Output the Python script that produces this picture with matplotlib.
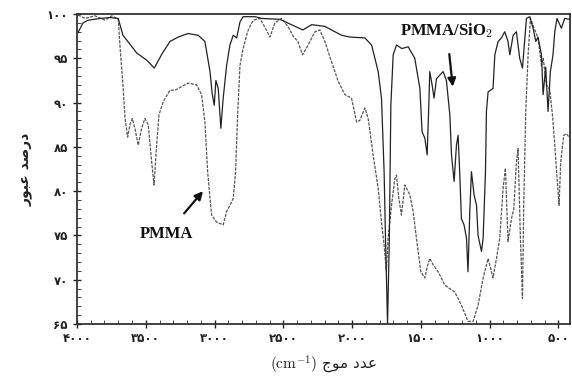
import matplotlib
matplotlib.use("Agg")
import matplotlib.pyplot as plt
from matplotlib.ticker import MultipleLocator, FixedLocator, FixedFormatter

plt.rcParams['font.family'] = ['DejaVu Sans']
plt.rcParams['mathtext.fontset'] = 'cm'

# PMMA/SiO2 (upper, solid)
wn_sio2 = [3993, 3956, 3920, 3833, 3760, 3700, 3666, 3615, 3566, 3494, 3438, 3382, 3324,
           3264, 3193, 3119, 3070, 3033, 3017, 3002, 2990, 2973, 2954, 2937, 2912, 2888,
           2864, 2839, 2815, 2792, 2706, 2656, 2525, 2358, 2294, 2198, 2076, 2016, 1907,
           1858, 1810, 1786, 1767, 1757, 1742, 1729, 1718, 1701, 1677, 1638, 1592, 1544,
           1507, 1491, 1471, 1454, 1442, 1435, 1418, 1404, 1386, 1362, 1338, 1314, 1289,
           1277, 1258, 1241, 1229, 1217, 1205, 1186, 1168, 1157, 1144, 1132, 1113, 1095,
           1084, 1059, 1047, 1030, 1023, 1011, 975, 962, 938, 914, 890, 866, 853, 829,
           805, 781, 761, 732, 708, 684, 664, 648, 623, 611, 592, 575, 558, 539, 526,
           510, 478, 454, 417]
t_sio2 = [97.9, 99.0, 99.3, 99.5, 99.6, 99.5, 97.6, 96.6, 95.6, 94.8, 93.9, 95.5, 96.9,
          97.4, 97.8, 97.6, 96.9, 93.5, 91.0, 89.7, 92.5, 91.6, 87.1, 90.5, 94.2, 96.5,
          97.6, 97.3, 99.1, 99.7, 99.7, 99.5, 99.4, 98.2, 98.8, 98.6, 97.6, 97.4, 97.3,
          96.5, 93.5, 90.5, 82.2, 74.7, 65.0, 74.7, 89.7, 95.4, 96.5, 96.1, 96.3, 95.0,
          91.6, 86.7, 86.0, 84.1, 89.7, 93.5, 92.0, 90.5, 92.7, 93.1, 93.5, 92.5, 88.6,
          84.1, 81.1, 85.2, 86.3, 82.0, 76.9, 76.2, 74.7, 70.9, 77.7, 82.2, 79.6, 78.4,
          75.0, 73.2, 74.7, 82.2, 89.0, 91.2, 91.6, 95.4, 96.9, 97.3, 98.0, 96.9, 95.4, 97.6,
          98.0, 95.0, 93.9, 99.5, 99.7, 98.4, 96.9, 97.4, 95.4, 90.9, 94.0, 89.0, 93.5, 95.4, 98.0,
          99.5, 98.4, 99.5, 99.4]

# PMMA (lower, dashed)
wn_pmma = [3993, 3942, 3869, 3797, 3746, 3700, 3688, 3664, 3651, 3632, 3615, 3598, 3579,
           3555, 3530, 3506, 3482, 3457, 3440, 3421, 3404, 3373, 3324, 3288, 3191, 3130,
           3094, 3070, 3050, 3033, 3021, 2985, 2937, 2912, 2888, 2864, 2847, 2832, 2815,
           2792, 2760, 2736, 2719, 2670, 2634, 2597, 2561, 2512, 2467, 2424, 2394, 2360,
           2319, 2270, 2234, 2198, 2149, 2101, 2052, 2004, 1967, 1943, 1907, 1883, 1847,
           1810, 1786, 1767, 1751, 1738, 1713, 1689, 1677, 1660, 1641, 1616, 1594, 1580,
           1556, 1532, 1500, 1471, 1453, 1435, 1411, 1374, 1326, 1253, 1204, 1157, 1120,
           1084, 1047, 1011, 975, 950, 926, 902, 885, 866, 841, 824, 805, 793, 776, 761,
           752, 737, 720, 703, 679, 648, 623, 610, 587, 563, 543, 526, 512, 495, 483,
           461, 442, 417]
t_pmma = [99.9, 99.5, 99.8, 99.3, 99.8, 99.4, 96.5, 91.6, 88.3, 86.1, 87.5, 88.2, 87.1,
          85.2, 87.1, 88.2, 87.5, 83.3, 80.7, 85.2, 88.6, 90.1, 91.4, 91.4, 92.2, 92.0,
          90.9, 87.8, 82.2, 79.2, 77.3, 76.5, 76.2, 77.7, 78.4, 79.2, 82.2, 88.6, 94.2,
          96.1, 98.0, 98.8, 99.3, 99.5, 98.5, 97.4, 99.0, 99.5, 98.6, 97.4, 96.9, 95.4,
          96.5, 98.0, 98.2, 96.9, 94.6, 92.4, 90.9, 90.5, 87.8, 88.0, 89.4, 88.2, 84.1,
          80.3, 76.5, 73.9, 71.0, 74.7, 78.4, 81.4, 81.8, 79.2, 77.3, 80.7, 80.0, 79.6,
          77.7, 74.7, 70.9, 70.2, 71.5, 72.4, 71.7, 70.9, 69.4, 68.6, 67.1, 65.3, 65.3,
          67.1, 70.2, 72.4, 70.2, 72.4, 74.7, 80.3, 82.6, 74.3, 76.9, 78.0, 83.3, 84.8, 74.7, 67.9,
          78.4, 89.0, 95.4, 99.5, 98.5, 97.3, 94.2, 95.0, 92.0, 91.5, 88.6, 85.2, 82.0, 78.4, 83.3,
          86.3, 86.5, 86.0]

x_ticks = [4000, 3500, 3000, 2500, 2000, 1500, 1000, 500]
x_labels = ['۴۰۰۰', '۳۵۰۰', '۳۰۰۰', '۲۵۰۰', '۲۰۰۰', '۱۵۰۰', '۱۰۰۰', '۵۰۰']
y_ticks = [65, 70, 75, 80, 85, 90, 95, 100]
y_labels = ['۶۵', '۷۰', '۷۵', '۸۰', '۸۵', '۹۰', '۹۵', '۱۰۰']

# Persian labels written in visual (shaped, left-to-right) order
xlabel_text = r'$(\mathrm{cm}^{-1})$ ' + '\uFE9D\uFEEE\uFEE3 \uFEA9\uFEAA\uFECB'   # عدد موج
ylabel_text = '\uFEAD\uFEEE\uFE92\uFECB \uFEAA\uFEBB\uFEAD\uFEA9'                  # درصد عبور

fig = plt.figure(figsize=(5.72, 3.85), dpi=100)
ax = fig.add_axes([0.1346, 0.1584, 0.862, 0.8052])

ax.plot(wn_pmma, t_pmma, color='#555555', lw=0.9, linestyle=(0, (2.5, 1)))
ax.plot(wn_sio2, t_sio2, color='#222222', lw=0.9)

ax.set_xlim(4000, 415)
ax.set_ylim(65, 100)

ax.xaxis.set_major_locator(FixedLocator(x_ticks))
ax.xaxis.set_major_formatter(FixedFormatter(x_labels))
ax.yaxis.set_major_locator(FixedLocator(y_ticks))
ax.yaxis.set_major_formatter(FixedFormatter(y_labels))
ax.xaxis.set_minor_locator(MultipleLocator(100))
ax.yaxis.set_minor_locator(MultipleLocator(1))

ax.tick_params(which='major', direction='inout', length=6, width=1.0, labelsize=8.5,
               colors='#222222')
ax.tick_params(which='minor', direction='in', length=3, width=0.7, colors='#444444')
ax.tick_params(axis='x', pad=3)
for lab in ax.get_xticklabels() + ax.get_yticklabels():
    lab.set_fontweight('bold')

for s in ax.spines.values():
    s.set_linewidth(1.3)
    s.set_color('#333333')

ax.set_xlabel(xlabel_text, fontsize=11, labelpad=6, color='#222222')
ax.set_ylabel(ylabel_text, fontsize=10, labelpad=10, color='#222222', fontweight='bold')

ax.annotate('PMMA', xy=(3084, 80.0), xytext=(3346, 75.2),
            ha='center', va='center', fontsize=12, fontweight='bold',
            family='Liberation Serif', color='#111111',
            arrowprops=dict(arrowstyle='-|>', color='#111111', lw=1.6,
                            mutation_scale=12, shrinkA=9, shrinkB=0))
ax.annotate('PMMA/SiO$_2$', xy=(1268, 91.8), xytext=(1311, 98.1),
            ha='center', va='center', fontsize=12, fontweight='bold',
            family='Liberation Serif', color='#111111',
            arrowprops=dict(arrowstyle='-|>', color='#111111', lw=1.6,
                            mutation_scale=12, shrinkA=8, shrinkB=0))

fig.savefig('out.png', dpi=100)
